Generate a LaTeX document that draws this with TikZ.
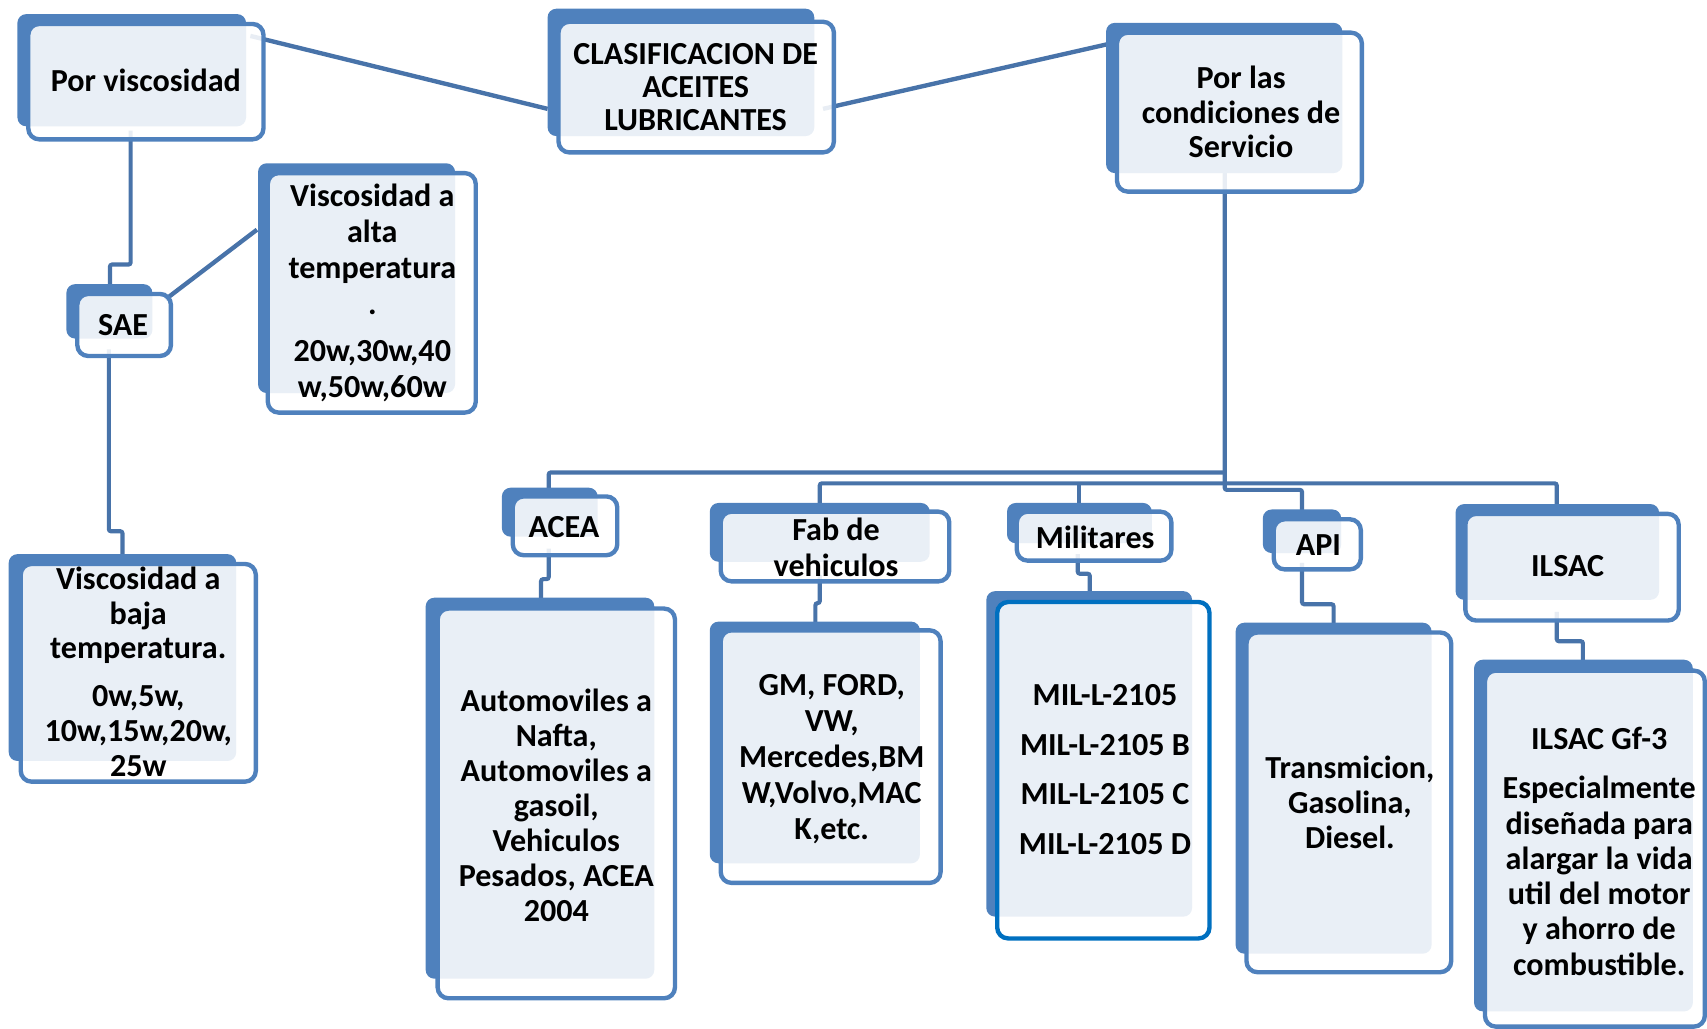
\documentclass[tikz,border=0pt]{standalone}
\usepackage{fontspec}
\setmainfont{Carlito}
\usetikzlibrary{calc,fit}
\definecolor{boxblue}{HTML}{4F81BD}
\definecolor{linkblue}{HTML}{4873A9}
\definecolor{milblue}{HTML}{0070C0}
\pgfdeclarelayer{links}
\pgfsetlayers{links,main}
\tikzset{
  backbox/.style={fill=boxblue, rounded corners=8pt},
  frontbox/.style={inner sep=0pt, draw=boxblue, line width=4pt, fill=white,
                   fill opacity=0.88, rounded corners=10pt},
  conn/.style={draw=linkblue, line width=4pt},
  elbow/.style={draw=linkblue, line width=3.8pt, rounded corners=2pt},
  txt/.style={font=\bfseries\fontsize{29.5}{33}\selectfont, align=center, inner sep=0pt, text=black},
}
% back panel (x0,y0,x1,y1) and framed front panel (x0,y0,x1,y1)
\newcommand\duobox[9]{%
  \fill[backbox] (#2,#3) rectangle (#4,#5);
  \node[frontbox, fit={(#6,#7) (#8,#9)}] (#1) {};
}
\begin{document}
\begin{tikzpicture}[x=1pt,y=-1pt]
\useasboundingbox (0,0) rectangle (1568,945);

% ---- panels ----
\duobox{por}{16}{13}{226}{116}{26}{22}{242}{128}
\duobox{clas}{503}{8}{748}{125}{513}{20}{766}{140}
\duobox{serv}{1016}{21}{1233}{159}{1026}{30}{1251}{176}
\duobox{sae}{61}{261}{140}{311}{71}{270}{157}{327}
\duobox{alta}{237}{150}{418}{361}{246}{159}{437}{379}
\duobox{baja}{8}{509}{217}{699}{19}{518}{235}{718}
\duobox{acea}{461}{448}{549}{493}{471}{456}{567}{510}
\duobox{acea-c}{391}{549}{601}{899}{402}{559}{620}{917}
\duobox{fab}{652}{462}{854}{516}{662}{470}{872}{534}
\duobox{fab-c}{652}{571}{845}{793}{662}{579}{864}{811}
\duobox{mil}{925}{462}{1058}{499}{934}{470}{1076}{515}
\fill[backbox] (906,543) rectangle (1095,842);
\node[frontbox, draw=milblue, fit={(916,553) (1111,862)}] (mil-c) {};
\duobox{api}{1160}{468}{1232}{508}{1170}{477}{1250}{523}
\duobox{api-c}{1135}{572}{1315}{876}{1145}{581}{1333}{893}
\duobox{ilsac}{1337}{463}{1524}{551}{1346}{472}{1542}{570}
\duobox{ilsac-c}{1354}{606}{1555}{929}{1364}{616}{1566}{943}

% ---- texts ----
\node[txt] (por-t) at (134,74) {Por viscosidad};
\node[txt, font=\bfseries\fontsize{29.5}{30}\selectfont] (clas-t) at (639,80)
  {CLASIFICACION DE\\ACEITES\\LUBRICANTES};
\node[txt, font=\bfseries\fontsize{29.5}{31.5}\selectfont] (serv-t) at (1140,103)
  {Por las\\condiciones de\\Servicio};
\node[txt] (sae-t) at (113,299) {SAE};
\node[txt] (alta-t) at (342,269)
  {Viscosidad a\\alta\\temperatura\\.\\[10pt]20w,30w,40\\w,50w,60w};
\node[txt, font=\bfseries\fontsize{29.5}{32}\selectfont] (baja-t) at (127,617)
  {Viscosidad a\\baja\\temperatura.\\[12pt]0w,5w,\\10w,15w,20w,\\25w};
\node[txt] (acea-t) at (518,484) {ACEA};
\node[txt, font=\bfseries\fontsize{29.5}{32.2}\selectfont] (acea-c-t) at (511,740)
  {Automoviles a\\Nafta,\\Automoviles a\\gasoil,\\Vehiculos\\Pesados, ACEA\\2004};
\node[txt] (fab-t) at (768,503) {Fab de\\vehiculos};
\node[txt] (fab-c-t) at (764,697)
  {GM, FORD,\\VW,\\Mercedes,BM\\W,Volvo,MAC\\K,etc.};
\node[txt] (mil-t) at (1006,494) {Militares};
\node[txt, font=\bfseries\fontsize{29.5}{45.5}\selectfont] (mil-c-t) at (1015,707)
  {MIL-L-2105\\MIL-L-2105 B\\MIL-L-2105 C\\MIL-L-2105 D};
\node[txt] (api-t) at (1211,501) {API};
\node[txt, font=\bfseries\fontsize{29.5}{32.5}\selectfont] (api-c-t) at (1240,737)
  {Transmicion,\\Gasolina,\\Diesel.};
\node[txt] (ilsac-t) at (1440,520) {ILSAC};
\node[txt, font=\bfseries\fontsize{29.5}{32.4}\selectfont] (ilsac-c-t) at (1469,782)
  {ILSAC Gf-3\\[13pt]Especialmente\\diseñada para\\alargar la vida\\util del motor\\y ahorro de\\combustible.};

% ---- connectors, kept beneath the panels ----
\begin{pgfonlayer}{links}
\draw[conn] ($(por.north east)+(-14,13)$) -- ($(clas.west)+(-8,20)$);
\draw[conn] ($(clas.east)+(-12,20)$) -- ($(serv.west)+(-4,-63)$);
\draw[conn] ($(sae.north east)+(-7,7)$) -- ($(alta.west)+(-8,-58)$);
% trunk below the service panel, ending at API
\draw[elbow] ($(serv.south)+(-13.5,-26)$) |- ($(api.north)+(-14,-25)$) -- ($(api.north)+(-14,0)$);
\draw[elbow] ($(serv.south)+(-13.5,256)$) -| ($(acea.north)+(-15,0)$);
\draw[elbow] ($(fab.north)+(-14,0)$) |- ($(ilsac.north)+(-14,-26)$) -- ($(ilsac.north)+(-14,0)$);
\draw[elbow] ($(mil.north)+(-14,0)$) -- ($(mil.north)+(-14,-24)$);
% left branch
\draw[elbow] ($(por.south)+(-14,-10)$) |- ($(sae.north)+(-13,-25)$) -- ($(sae.north)+(-13,0)$);
\draw[elbow] ($(sae.south)+(-14,-8)$) |- ($(baja.north)+(-14.5,-28)$) -- ($(baja.north)+(-14.5,0)$);
% headings to their contents
\draw[elbow] ($(acea.south)+(-15,-8)$) |- ($(acea-c.north)+(-14,-25)$) -- ($(acea-c.north)+(-14,0)$);
\draw[elbow] ($(fab.south)+(-14,-8)$) |- ($(fab-c.north)+(-14,-23)$) -- ($(fab-c.north)+(-14,0)$);
\draw[elbow] ($(mil.south)+(-15,-8)$) |- ($(mil-c.north)+(-12.5,-24)$) -- ($(mil-c.north)+(-12.5,0)$);
\draw[elbow] ($(api.south)+(-14,-8)$) |- ($(api-c.north)+(-14,-24)$) -- ($(api-c.north)+(-14,0)$);
\draw[elbow] ($(ilsac.south)+(-14,-10)$) |- ($(ilsac-c.north)+(-11,-25)$) -- ($(ilsac-c.north)+(-11,0)$);
\end{pgfonlayer}
\end{tikzpicture}
\end{document}
